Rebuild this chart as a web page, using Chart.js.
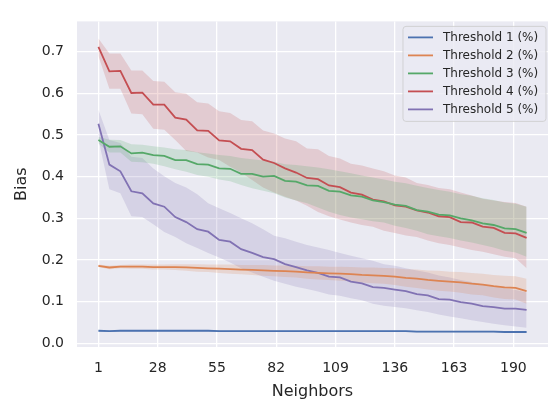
<!DOCTYPE html>
<html>
<head>
<meta charset="utf-8">
<script src="https://cdn.jsdelivr.net/npm/chart.js@4.4.1/dist/chart.umd.min.js"></script>
<style>
  html, body { margin: 0; padding: 0; background: #ffffff; }
  #wrap { width: 550px; height: 401px; }
</style>
</head>
<body>
<div id="wrap"><canvas id="biasChart" width="550" height="401"></canvas></div>
<script>
// Neighbors (x values) and tick positions
const neighbors = [1, 6, 11, 16, 21, 26, 31, 36, 41, 46, 51, 56, 61, 66, 71, 76, 81, 86, 91, 96,
    101, 106, 111, 116, 121, 126, 131, 136, 141, 146, 151, 156, 161, 166, 171, 176, 181, 186, 191, 196];
const neighborTicks = [1, 28, 55, 82, 109, 136, 163, 190];
const biasTicks = [0.0, 0.1, 0.2, 0.3, 0.4, 0.5, 0.6, 0.7];

const seriesNames = ['Threshold 1 (%)', 'Threshold 2 (%)', 'Threshold 3 (%)', 'Threshold 4 (%)', 'Threshold 5 (%)'];
const seriesColors = ['#4C72B0', '#DD8452', '#55A868', '#C44E52', '#8172B3'];

// Threshold 1
const t1Mean = [0.030, 0.029, 0.030, 0.030, 0.030, 0.030, 0.030, 0.030, 0.030, 0.030, 0.030, 0.029, 0.029, 0.029, 0.029, 0.029, 0.029, 0.029, 0.029, 0.029,
    0.029, 0.029, 0.029, 0.029, 0.029, 0.029, 0.029, 0.029, 0.029, 0.028, 0.028, 0.028, 0.028, 0.028, 0.028, 0.028, 0.028, 0.027, 0.027, 0.027];
const t1Upper = [0.032, 0.031, 0.032, 0.032, 0.032, 0.032, 0.032, 0.032, 0.032, 0.032, 0.032, 0.031, 0.031, 0.031, 0.031, 0.031, 0.031, 0.031, 0.031, 0.031,
    0.031, 0.031, 0.031, 0.031, 0.031, 0.031, 0.031, 0.031, 0.031, 0.030, 0.030, 0.030, 0.030, 0.030, 0.030, 0.030, 0.030, 0.029, 0.029, 0.029];
const t1Lower = [0.028, 0.027, 0.028, 0.028, 0.028, 0.028, 0.028, 0.028, 0.028, 0.028, 0.028, 0.027, 0.027, 0.027, 0.027, 0.027, 0.027, 0.027, 0.027, 0.027,
    0.027, 0.027, 0.027, 0.027, 0.027, 0.027, 0.027, 0.027, 0.027, 0.026, 0.026, 0.026, 0.026, 0.026, 0.026, 0.026, 0.026, 0.025, 0.025, 0.025];

// Threshold 2
const t2Mean = [0.186, 0.182, 0.184, 0.184, 0.184, 0.183, 0.183, 0.183, 0.182, 0.181, 0.180, 0.179, 0.178, 0.177, 0.176, 0.175, 0.174, 0.173, 0.172, 0.170,
    0.169, 0.168, 0.167, 0.166, 0.164, 0.163, 0.162, 0.160, 0.157, 0.155, 0.152, 0.150, 0.148, 0.146, 0.143, 0.141, 0.137, 0.134, 0.133, 0.125];
const t2Upper = [0.189, 0.186, 0.188, 0.189, 0.189, 0.189, 0.189, 0.190, 0.190, 0.190, 0.189, 0.189, 0.189, 0.188, 0.188, 0.188, 0.187, 0.187, 0.186, 0.185,
    0.185, 0.184, 0.184, 0.183, 0.182, 0.182, 0.181, 0.180, 0.178, 0.177, 0.175, 0.174, 0.172, 0.171, 0.169, 0.167, 0.164, 0.162, 0.161, 0.155];
const t2Lower = [0.183, 0.178, 0.180, 0.179, 0.179, 0.177, 0.177, 0.176, 0.174, 0.172, 0.171, 0.169, 0.167, 0.166, 0.164, 0.162, 0.161, 0.159, 0.158, 0.155,
    0.153, 0.152, 0.150, 0.149, 0.146, 0.144, 0.143, 0.140, 0.136, 0.133, 0.129, 0.126, 0.124, 0.121, 0.117, 0.115, 0.110, 0.106, 0.105, 0.095];

// Threshold 3
const t3Mean = [0.488, 0.472, 0.473, 0.456, 0.458, 0.452, 0.450, 0.440, 0.440, 0.430, 0.429, 0.420, 0.419, 0.407, 0.407, 0.400, 0.402, 0.390, 0.388, 0.379,
    0.378, 0.366, 0.364, 0.355, 0.352, 0.343, 0.339, 0.333, 0.330, 0.320, 0.316, 0.309, 0.307, 0.300, 0.295, 0.288, 0.284, 0.276, 0.274, 0.265];
const t3Upper = [0.496, 0.489, 0.488, 0.478, 0.477, 0.473, 0.470, 0.466, 0.464, 0.459, 0.456, 0.452, 0.450, 0.445, 0.442, 0.439, 0.436, 0.430, 0.428, 0.425,
    0.422, 0.418, 0.413, 0.408, 0.403, 0.398, 0.393, 0.388, 0.384, 0.378, 0.373, 0.368, 0.364, 0.358, 0.354, 0.348, 0.344, 0.338, 0.335, 0.328];
const t3Lower = [0.480, 0.458, 0.458, 0.436, 0.435, 0.431, 0.425, 0.418, 0.412, 0.404, 0.400, 0.393, 0.389, 0.380, 0.372, 0.366, 0.360, 0.350, 0.343, 0.336,
    0.326, 0.316, 0.308, 0.302, 0.298, 0.293, 0.290, 0.282, 0.277, 0.270, 0.262, 0.257, 0.253, 0.247, 0.242, 0.236, 0.230, 0.222, 0.218, 0.208];

// Threshold 4
const t4Mean = [0.712, 0.653, 0.654, 0.601, 0.602, 0.573, 0.573, 0.542, 0.537, 0.511, 0.510, 0.487, 0.485, 0.467, 0.464, 0.441, 0.433, 0.420, 0.410, 0.397,
    0.394, 0.379, 0.375, 0.362, 0.357, 0.345, 0.341, 0.331, 0.328, 0.319, 0.314, 0.305, 0.303, 0.291, 0.290, 0.280, 0.277, 0.265, 0.264, 0.253];
const t4Upper = [0.732, 0.696, 0.696, 0.655, 0.655, 0.630, 0.628, 0.603, 0.599, 0.579, 0.576, 0.557, 0.553, 0.536, 0.533, 0.511, 0.504, 0.492, 0.485, 0.468,
    0.466, 0.450, 0.444, 0.431, 0.427, 0.420, 0.413, 0.403, 0.398, 0.385, 0.380, 0.373, 0.370, 0.362, 0.355, 0.347, 0.343, 0.339, 0.337, 0.328];
const t4Lower = [0.690, 0.611, 0.611, 0.552, 0.550, 0.515, 0.513, 0.488, 0.462, 0.458, 0.446, 0.440, 0.424, 0.410, 0.392, 0.374, 0.362, 0.352, 0.343, 0.330,
    0.315, 0.305, 0.297, 0.290, 0.284, 0.280, 0.270, 0.265, 0.259, 0.255, 0.247, 0.240, 0.236, 0.230, 0.224, 0.220, 0.214, 0.208, 0.204, 0.180];

// Threshold 5
const t5Mean = [0.527, 0.429, 0.413, 0.365, 0.360, 0.336, 0.328, 0.303, 0.291, 0.274, 0.268, 0.248, 0.244, 0.226, 0.217, 0.207, 0.202, 0.190, 0.183, 0.175,
    0.169, 0.160, 0.158, 0.148, 0.144, 0.135, 0.133, 0.129, 0.125, 0.118, 0.115, 0.106, 0.105, 0.099, 0.095, 0.089, 0.087, 0.083, 0.083, 0.080];
const t5Upper = [0.561, 0.488, 0.481, 0.448, 0.445, 0.420, 0.401, 0.385, 0.374, 0.358, 0.336, 0.324, 0.313, 0.300, 0.288, 0.274, 0.258, 0.252, 0.244, 0.236,
    0.230, 0.224, 0.217, 0.210, 0.204, 0.198, 0.190, 0.186, 0.180, 0.175, 0.170, 0.163, 0.158, 0.152, 0.147, 0.141, 0.137, 0.132, 0.128, 0.122];
const t5Lower = [0.490, 0.370, 0.360, 0.305, 0.303, 0.286, 0.267, 0.255, 0.240, 0.229, 0.217, 0.206, 0.194, 0.180, 0.170, 0.160, 0.150, 0.143, 0.136, 0.130,
    0.124, 0.117, 0.114, 0.108, 0.103, 0.095, 0.090, 0.087, 0.084, 0.079, 0.075, 0.069, 0.064, 0.060, 0.055, 0.051, 0.047, 0.043, 0.040, 0.037];

const means = [t1Mean, t2Mean, t3Mean, t4Mean, t5Mean];
const uppers = [t1Upper, t2Upper, t3Upper, t4Upper, t5Upper];
const lowers = [t1Lower, t2Lower, t3Lower, t4Lower, t5Lower];

const toPoints = arr => arr.map((v, i) => ({ x: neighbors[i], y: v }));
const withAlpha = (hex, a) => {
    const n = parseInt(hex.slice(1), 16);
    return `rgba(${(n >> 16) & 255}, ${(n >> 8) & 255}, ${n & 255}, ${a})`;
};

// Build datasets: mean lines first (drawn on top), then band pairs
const datasets = [];
seriesNames.forEach((name, k) => {
    datasets.push({
        label: name,
        data: toPoints(means[k]),
        borderColor: seriesColors[k],
        borderWidth: 1.8,
        pointRadius: 0,
        fill: false,
        order: 0
    });
});
seriesNames.forEach((name, k) => {
    datasets.push({
        label: name + ' lower',
        data: toPoints(lowers[k]),
        borderWidth: 0,
        pointRadius: 0,
        fill: false,
        order: 1
    });
    datasets.push({
        label: name + ' upper',
        data: toPoints(uppers[k]),
        borderWidth: 0,
        pointRadius: 0,
        backgroundColor: withAlpha(seriesColors[k], 0.2),
        fill: '-1',
        order: 1
    });
});

// Gray plotting area like seaborn darkgrid
const plotBackground = {
    id: 'plotBackground',
    beforeDraw(chart) {
        const { ctx, chartArea: a } = chart;
        ctx.save();
        ctx.fillStyle = '#EAEAF2';
        ctx.fillRect(a.left, a.top, a.right - a.left, a.bottom - a.top);
        ctx.restore();
    }
};

// Legend box drawn in the upper right corner of the plot
const boxLegend = {
    id: 'boxLegend',
    afterDraw(chart) {
        const { ctx, chartArea: a } = chart;
        const rowH = 18;
        const w = 143, h = 95;
        const x0 = a.right - w - 2, y0 = a.top + 5;
        ctx.save();
        ctx.beginPath();
        ctx.roundRect(x0, y0, w, h, 3);
        ctx.fillStyle = 'rgba(234, 234, 242, 0.8)';
        ctx.fill();
        ctx.strokeStyle = 'rgba(204, 204, 204, 0.8)';
        ctx.lineWidth = 1;
        ctx.stroke();
        ctx.font = '12px "DejaVu Sans"';
        ctx.textBaseline = 'middle';
        seriesNames.forEach((name, k) => {
            const y = y0 + 11 + k * rowH;
            ctx.strokeStyle = seriesColors[k];
            ctx.lineWidth = 1.8;
            ctx.beginPath();
            ctx.moveTo(x0 + 5, y);
            ctx.lineTo(x0 + 30, y);
            ctx.stroke();
            ctx.fillStyle = '#262626';
            ctx.fillText(name, x0 + 40, y);
        });
        ctx.restore();
    }
};

const ctx = document.getElementById('biasChart').getContext('2d');
const biasChart = new Chart(ctx, {
    type: 'line',
    data: { datasets: datasets },
    plugins: [plotBackground, boxLegend],
    options: {
        responsive: false,
        animation: false,
        layout: { padding: { top: 6, right: 2, left: 0, bottom: 0 } },
        plugins: {
            legend: { display: false },
            tooltip: { enabled: false }
        },
        scales: {
            x: {
                type: 'linear',
                min: -8.75,
                max: 205.75,
                afterBuildTicks: s => { s.ticks = neighborTicks.map(v => ({ value: v })); },
                afterFit: s => { s.height = 54; },
                grid: { color: '#ffffff', lineWidth: 1.3, drawTicks: false },
                border: { display: false },
                ticks: {
                    color: '#262626',
                    font: { family: 'DejaVu Sans', size: 14 },
                    padding: 13,
                    maxRotation: 0,
                    callback: v => String(v)
                },
                title: {
                    display: true,
                    text: 'Neighbors',
                    color: '#262626',
                    font: { family: 'DejaVu Sans', size: 16 },
                    padding: { top: 0, bottom: 0 }
                }
            },
            y: {
                min: -0.009,
                max: 0.773,
                afterBuildTicks: s => { s.ticks = biasTicks.map(v => ({ value: v })); },
                afterFit: s => { s.width = 77; },
                grid: { color: '#ffffff', lineWidth: 1.3, drawTicks: false },
                border: { display: false },
                ticks: {
                    color: '#262626',
                    font: { family: 'DejaVu Sans', size: 14 },
                    padding: 13,
                    callback: v => v.toFixed(1)
                },
                title: {
                    display: true,
                    text: 'Bias',
                    color: '#262626',
                    font: { family: 'DejaVu Sans', size: 16 },
                    padding: { top: 12, bottom: 0 }
                }
            }
        }
    }
});
</script>
</body>
</html>
